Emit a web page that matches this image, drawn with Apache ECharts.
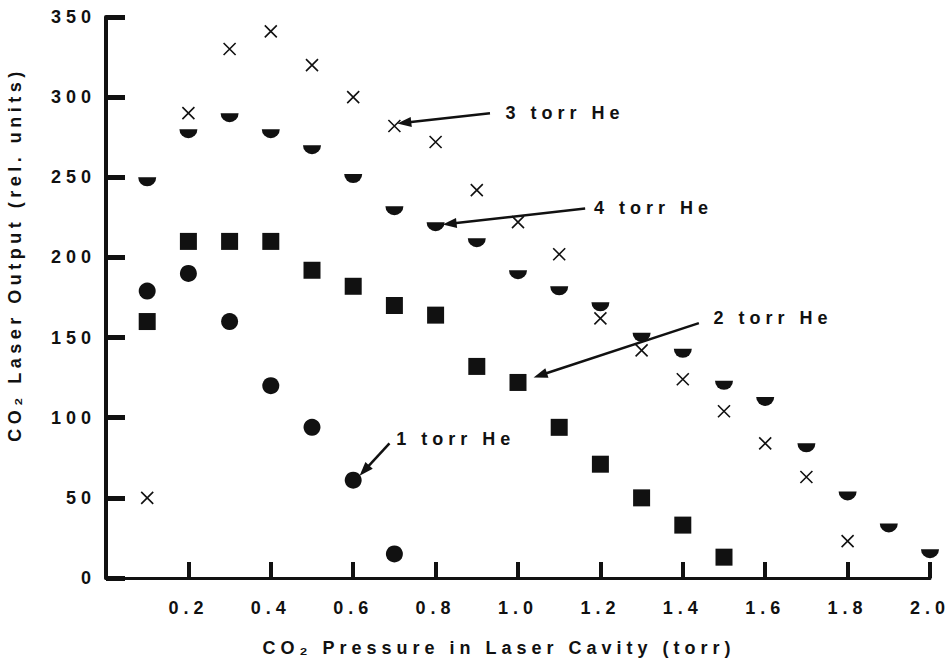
<!DOCTYPE html>
<html>
<head>
<meta charset="utf-8">
<script src="https://cdn.jsdelivr.net/npm/echarts@6/dist/echarts.min.js"></script>
<style>
html,body{margin:0;padding:0;background:#fff}
#c{width:950px;height:663px}
#c svg text{letter-spacing:5px}
</style>
</head>
<body>
<div id="c"></div>
<script>
// ---- data ----
const p1 = [0.1, 0.2, 0.3, 0.4, 0.5, 0.6, 0.7];
const he1 = [179, 190, 160, 120, 94, 61, 15];

const p2 = [0.1, 0.2, 0.3, 0.4, 0.5, 0.6, 0.7, 0.8, 0.9, 1.0, 1.1, 1.2, 1.3, 1.4, 1.5];
const he2 = [160, 210, 210, 210, 192, 182, 170, 164, 132, 122, 94, 71, 50, 33, 13];

const p3 = [0.1, 0.2, 0.3, 0.4, 0.5, 0.6, 0.7, 0.8, 0.9, 1.0, 1.1, 1.2, 1.3, 1.4, 1.5, 1.6, 1.7, 1.8];
const he3 = [50, 290, 330, 341, 320, 300, 282, 272, 242, 222, 202, 162, 142, 124, 104, 84, 63, 23];

const p4 = [0.1, 0.2, 0.3, 0.4, 0.5, 0.6, 0.7, 0.8, 0.9, 1.0, 1.1, 1.2, 1.3, 1.4, 1.5, 1.6, 1.7, 1.8, 1.9, 2.0];
const he4 = [250, 280, 290, 280, 270, 252, 232, 222, 212, 192, 182, 172, 153, 143, 123, 113, 84, 54, 34, 18];

const yTicks = [0, 50, 100, 150, 200, 250, 300, 350];
const xTicks = [0.2, 0.4, 0.6, 0.8, 1.0, 1.2, 1.4, 1.6, 1.8, 2.0];

const xTitle = 'CO₂ Pressure in Laser Cavity (torr)';
const yTitle = 'CO₂ Laser Output (rel. units)';

// annotation labels: [text, text anchor (x,y), arrow start (x,y), arrow tip (x,y)]
const labels = [
  ['1 torr He', [0.69, 87], [0.688, 84], [0.627, 67]],
  ['2 torr He', [1.46, 162], [1.439, 159], [1.054, 126.5]],
  ['3 torr He', [0.955, 290], [0.932, 290], [0.724, 284]],
  ['4 torr He', [1.17, 231], [1.163, 230.5], [0.834, 221]]
];

const zip = (xs, ys) => xs.map((x, i) => [x, ys[i]]);
const INK = '#111';
const FONT = 'Liberation Sans';
const FS = 18;

const halfDisc = 'path://M0,0 L20,0 A10,10 0 0 1 0,0 Z';
const cross = 'path://M0,0 L10,10 M10,0 L0,10';

const arrowSeries = {
  type: 'scatter',
  data: [],
  silent: true,
  markLine: {
    silent: true,
    animation: false,
    symbol: ['none', 'triangle'],
    symbolSize: [10, 14],
    lineStyle: { color: INK, width: 2.5, type: 'solid', opacity: 1 },
    label: { show: false },
    data: labels.map(l => [{ coord: l[2] }, { coord: l[3] }])
  },
  markPoint: {
    silent: true,
    animation: false,
    symbol: 'circle',
    symbolSize: 0,
    label: {
      show: true,
      position: 'right',
      distance: 6,
      color: INK,
      fontFamily: FONT,
      fontWeight: 'bold',
      fontSize: FS,
      formatter: p => p.name
    },
    data: labels.map(l => ({ name: l[0], coord: l[1] }))
  }
};

const chart = echarts.init(document.getElementById('c'), null, { renderer: 'svg' });
chart.setOption({
  animation: false,
  backgroundColor: '#fff',
  grid: { left: 106, right: 20, top: 17, bottom: 85, containLabel: false, outerBoundsMode: 'none' },
  xAxis: {
    type: 'value',
    min: 0, max: 2.0, interval: 0.2,
    name: xTitle,
    nameLocation: 'middle',
    nameGap: 61,
    nameTextStyle: {
      color: INK, fontFamily: FONT, fontWeight: 'bold', fontSize: FS,
      padding: [0, 38, 0, 0]
    },
    axisLine: { lineStyle: { color: INK, width: 3 } },
    axisTick: { inside: true, length: 16, lineStyle: { color: INK, width: 4 } },
    splitLine: { show: false },
    axisLabel: {
      margin: 21, color: INK, fontFamily: FONT, fontWeight: 'bold', fontSize: FS,
      formatter: v => {
        const hit = xTicks.find(t => Math.abs(t - v) < 1e-6);
        return hit === undefined ? '' : hit.toFixed(1);
      }
    }
  },
  yAxis: {
    type: 'value',
    min: 0, max: 350, interval: 50,
    name: yTitle,
    nameLocation: 'middle',
    nameGap: 82,
    nameTextStyle: {
      color: INK, fontFamily: FONT, fontWeight: 'bold', fontSize: FS,
      padding: [0, 0, 0, 86]
    },
    axisLine: { show: true, lineStyle: { color: INK, width: 4 } },
    axisTick: { show: true, inside: true, length: 19, lineStyle: { color: INK, width: 5 } },
    splitLine: { show: false },
    axisLabel: {
      margin: 10, color: INK, fontFamily: FONT, fontWeight: 'bold', fontSize: FS,
      formatter: v => (yTicks.includes(v) ? String(v) : '')
    }
  },
  series: [
    {
      name: '1 torr He', type: 'scatter', data: zip(p1, he1),
      symbol: 'circle', symbolSize: 17, itemStyle: { color: INK, opacity: 1 }
    },
    {
      name: '2 torr He', type: 'scatter', data: zip(p2, he2),
      symbol: 'rect', symbolSize: 17, itemStyle: { color: INK, opacity: 1 }
    },
    {
      name: '3 torr He', type: 'scatter', data: zip(p3, he3),
      symbol: cross, symbolSize: 12,
      itemStyle: { color: 'none', borderColor: INK, borderWidth: 1.6, opacity: 1 }
    },
    {
      name: '4 torr He', type: 'scatter', data: zip(p4, he4),
      symbol: halfDisc, symbolSize: [18, 9], symbolOffset: [0, 4.5],
      itemStyle: { color: INK, opacity: 1 }
    },
    arrowSeries
  ]
});

// the rotated y title gets slightly tighter tracking than the rest
function tuneTitles() {
  document.querySelectorAll('#c svg text').forEach(t => {
    if (t.textContent === yTitle) t.style.letterSpacing = '4.5px';
  });
}
chart.on('finished', tuneTitles);
tuneTitles();
</script>
</body>
</html>
